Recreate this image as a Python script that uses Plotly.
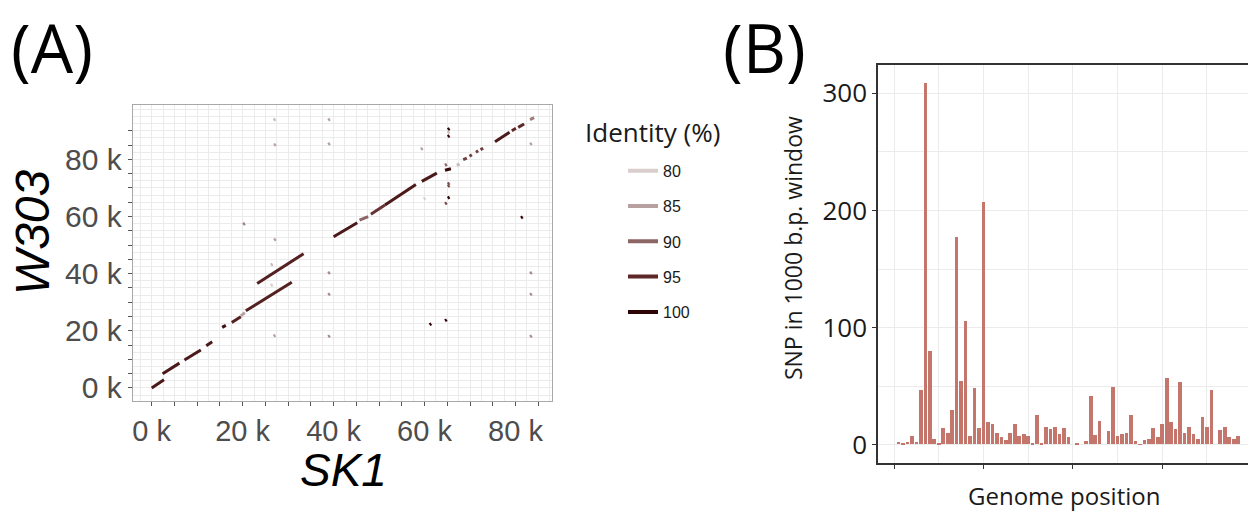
import plotly.graph_objects as go

W, H = 1248, 514


def px(x):
    return x / W


def py(y):
    return (H - y) / H


# ---------------- Panel A data: alignment segments (bp) ----------------
seg_x0 = [0, 2400, 7200, 12000, 15500, 17600, 19600, 20700, 23200, 40000, 45700, 48200, 51300, 59400,
          64500, 67100, 68500, 69900, 71300, 72300, 75500, 79200, 80600, 83200,
          26200, 26200,
          26800, 26900, 26900, 26800, 38800, 38800, 38800, 38800, 38800,
          83200, 83200, 83200, 83200, 20100, 59200, 59800, 81200, 61100, 64500,
          65100, 65100, 65100, 64500, 65100, 65100, 65100, 64500]
seg_y0 = [0, 5000, 9800, 14800, 21200, 22900, 25200, 27000, 36600, 52900, 58700, 60800, 64000, 72300,
          76200, 77900, 79900, 81100, 82500, 83400, 86200, 90000, 91200, 93900,
          43000, 35800,
          93700, 84900, 51700, 18100, 93700, 85200, 40100, 32600, 17900,
          85200, 40100, 32600, 17900, 57200, 83500, 66100, 59500, 22100, 23500,
          90400, 89300, 87900, 77900, 71300, 70500, 66400, 64400]
seg_x1 = [2700, 6100, 10800, 13300, 16300, 19600, 20500, 30800, 33400, 45200, 47600, 51300, 58100, 62700,
          65800, 67700, 69300, 70400, 71800, 72900, 78700, 80100, 81900, 84100,
          26600, 26600,
          27200, 27300, 27300, 27200, 39200, 39200, 39200, 39200, 39200,
          83600, 83600, 83600, 83600, 20500, 59600, 60200, 81600, 61500, 64900,
          65500, 65500, 65500, 64900, 65500, 65500, 65500, 64900]
seg_y1 = [2900, 8700, 13300, 16200, 21900, 24900, 26400, 37000, 47000, 57800, 60000, 64000, 71200, 75200,
          76700, 78400, 80400, 81600, 83000, 83900, 89500, 90900, 92400, 94600,
          43400, 36200,
          94100, 85300, 52100, 18500, 94100, 85600, 40500, 33000, 18300,
          85600, 40500, 33000, 18300, 57600, 83900, 66500, 59900, 22500, 23900,
          90800, 89700, 88300, 78300, 71700, 70900, 66800, 64800]
seg_identity = [97, 97, 97, 97, 98, 96, 85, 96, 96, 97, 90, 94, 97, 97,
                99, 82, 93, 93, 93, 93, 97, 95, 95, 88,
                82, 80,
                82, 85, 85, 85, 85, 85, 87, 87, 87,
                85, 87, 87, 87, 88, 85, 80, 100, 100, 100,
                100, 82, 99, 90, 92, 92, 100, 92]

identity_levels = [80, 85, 90, 95, 100]
identity_colors = ["#d9cdcd", "#b7a0a0", "#8c6565", "#5e2727", "#2e0303"]

x_tickvals = list(range(0, 90000, 5000))
y_tickvals = list(range(0, 95000, 5000))

# ---------------- Panel B data: SNP counts per window ----------------
window_index = list(range(1, 78))
snp_counts = [2.3, 0.6, 2.3, 7, 2.3, 46, 308, 80, 5, 0.6,
              14, 10, 29, 177, 54, 105, 7, 48, 14, 207,
              19, 17, 9.5, 6, 3.4, 9.3, 17, 7.3, 8.5, 7.3,
              1, 25, 1, 15, 13, 15, 9, 14, 6, None,
              0.5, None, 3, 41, 8, 20, None, 11, 49, 7,
              9, 10, 25, 3, 0.3, 4, 5, 14, 6, 17,
              57, 19, 13, 53, 10, 15, 8.5, 5, 23, 15,
              46, None, 12, 15, 6, 5, 7]


def hex_to_rgb(h):
    h = h.lstrip("#")
    return tuple(int(h[i:i + 2], 16) for i in (0, 2, 4))


def identity_color(v):
    if v <= identity_levels[0]:
        return identity_colors[0]
    for k in range(len(identity_levels) - 1):
        a, b = identity_levels[k], identity_levels[k + 1]
        if a <= v <= b:
            t = (v - a) / (b - a)
            c0, c1 = hex_to_rgb(identity_colors[k]), hex_to_rgb(identity_colors[k + 1])
            c = [round(c0[j] + (c1[j] - c0[j]) * t) for j in range(3)]
            return "rgb(%d,%d,%d)" % tuple(c)
    return identity_colors[-1]


fig = go.Figure()

for x0, y0, x1, y1, ident in zip(seg_x0, seg_y0, seg_x1, seg_y1, seg_identity):
    fig.add_trace(go.Scatter(
        x=[x0, x1], y=[y0, y1], mode="lines",
        line=dict(color=identity_color(ident), width=3),
        showlegend=False, hoverinfo="skip", xaxis="x", yaxis="y"))

for i, (lvl, col) in enumerate(zip(identity_levels, identity_colors)):
    fig.add_trace(go.Scatter(
        x=[None], y=[None], mode="lines", name=str(lvl),
        line=dict(color=col, width=4), legendgroup="g%d" % i,
        showlegend=True, xaxis="x", yaxis="y"))

fig.add_trace(go.Bar(
    x=window_index, y=snp_counts, width=0.82,
    marker=dict(color="#c4756c", line=dict(width=0)),
    showlegend=False, xaxis="x2", yaxis="y2"))

grid = "#ebebeb"
fig.update_layout(
    width=W, height=H,
    margin=dict(l=0, r=0, t=0, b=0),
    paper_bgcolor="white", plot_bgcolor="white",
    bargap=0,
    xaxis=dict(
        domain=[px(132.7), px(552.3)], range=[-4180, 88100],
        tickmode="array", tickvals=x_tickvals,
        ticktext=[("%d k" % (v // 1000)) if v % 20000 == 0 else "" for v in x_tickvals],
        ticks="outside", ticklen=4, tickcolor="#555555",
        tickfont=dict(family="Liberation Sans", size=29, color="#4d4d4d"),
        showgrid=True, gridcolor=grid, gridwidth=1,
        minor=dict(dtick=2500, tick0=0, showgrid=True, gridcolor=grid, gridwidth=0.6),
        showline=True, mirror=True, linecolor="#a8a8a8", linewidth=1,
        zeroline=False, anchor="y"),
    yaxis=dict(
        domain=[py(404), py(106)], range=[-4500, 98960],
        tickmode="array", tickvals=y_tickvals,
        ticktext=[("%d k" % (v // 1000)) if v % 20000 == 0 else "" for v in y_tickvals],
        ticks="outside", ticklen=4, tickcolor="#555555",
        tickfont=dict(family="Liberation Sans", size=30, color="#4d4d4d"),
        showgrid=True, gridcolor=grid, gridwidth=1,
        minor=dict(dtick=2500, tick0=0, showgrid=True, gridcolor=grid, gridwidth=0.6),
        showline=True, mirror=True, linecolor="#a8a8a8", linewidth=1,
        zeroline=False, anchor="x"),
    xaxis2=dict(
        domain=[px(878), 1.0], range=[-3.6, 79.2],
        tickmode="array", tickvals=[0, 20, 40, 60], showticklabels=False,
        ticks="outside", ticklen=4, tickcolor="#333333",
        showgrid=True, gridcolor=grid, gridwidth=1.2,
        minor=dict(tickmode="array", tickvals=[10, 30, 50, 70], showgrid=True, gridcolor=grid, gridwidth=0.8),
        showline=True, mirror=True, linecolor="#333333", linewidth=1.5,
        zeroline=False, anchor="y2"),
    yaxis2=dict(
        domain=[py(467), py(66)], range=[-15.8, 323.7],
        tickmode="array", tickvals=[0, 100, 200, 300],
        ticks="outside", ticklen=4, tickcolor="#333333",
        tickfont=dict(family="Open Sans", size=26, color="#1a1a1a"),
        showgrid=True, gridcolor=grid, gridwidth=1.2,
        minor=dict(tickmode="array", tickvals=[50, 150, 250], showgrid=True, gridcolor=grid, gridwidth=0.8),
        showline=True, mirror=False, linecolor="#333333", linewidth=1.5,
        zeroline=False, anchor="x2"),
    legend=dict(
        x=px(623), y=py(155), xanchor="left", yanchor="top",
        font=dict(family="Liberation Sans", size=16, color="#1a1a1a"),
        tracegroupgap=11.5, bgcolor="rgba(0,0,0,0)", itemwidth=30),
    annotations=[
        dict(text="(A)", x=px(52), y=py(47), xref="paper", yref="paper",
             showarrow=False, font=dict(family="Open Sans", size=67, color="black"),
             xanchor="center", yanchor="middle"),
        dict(text="(B)", x=px(764), y=py(47), xref="paper", yref="paper",
             showarrow=False, font=dict(family="Open Sans", size=67, color="black"),
             xanchor="center", yanchor="middle"),
        dict(text="<i>W303</i>", x=px(32), y=py(234), xref="paper", yref="paper",
             showarrow=False, textangle=-90, font=dict(family="Liberation Sans", size=48, color="black"),
             xanchor="center", yanchor="middle"),
        dict(text="<i>SK1</i>", x=px(343), y=py(474), xref="paper", yref="paper",
             showarrow=False, font=dict(family="Liberation Sans", size=46, color="black"),
             xanchor="center", yanchor="middle"),
        dict(text="Identity (%)", x=px(583), y=py(133), xref="paper", yref="paper",
             showarrow=False, font=dict(family="Open Sans", size=26, color="#1a1a1a"),
             xanchor="left", yanchor="middle"),
        dict(text="SNP in 1000 b.p. window", x=px(793), y=py(250), xref="paper", yref="paper",
             showarrow=False, textangle=-90, font=dict(family="Open Sans", size=23, color="#1a1a1a"),
             xanchor="center", yanchor="middle"),
        dict(text="Genome position", x=px(1064), y=py(499), xref="paper", yref="paper",
             showarrow=False, font=dict(family="Open Sans", size=24, color="#1a1a1a"),
             xanchor="center", yanchor="middle"),
    ],
)

fig.write_html("out.html", config={"displayModeBar": False},
               post_script="document.body.style.margin='0px';")
